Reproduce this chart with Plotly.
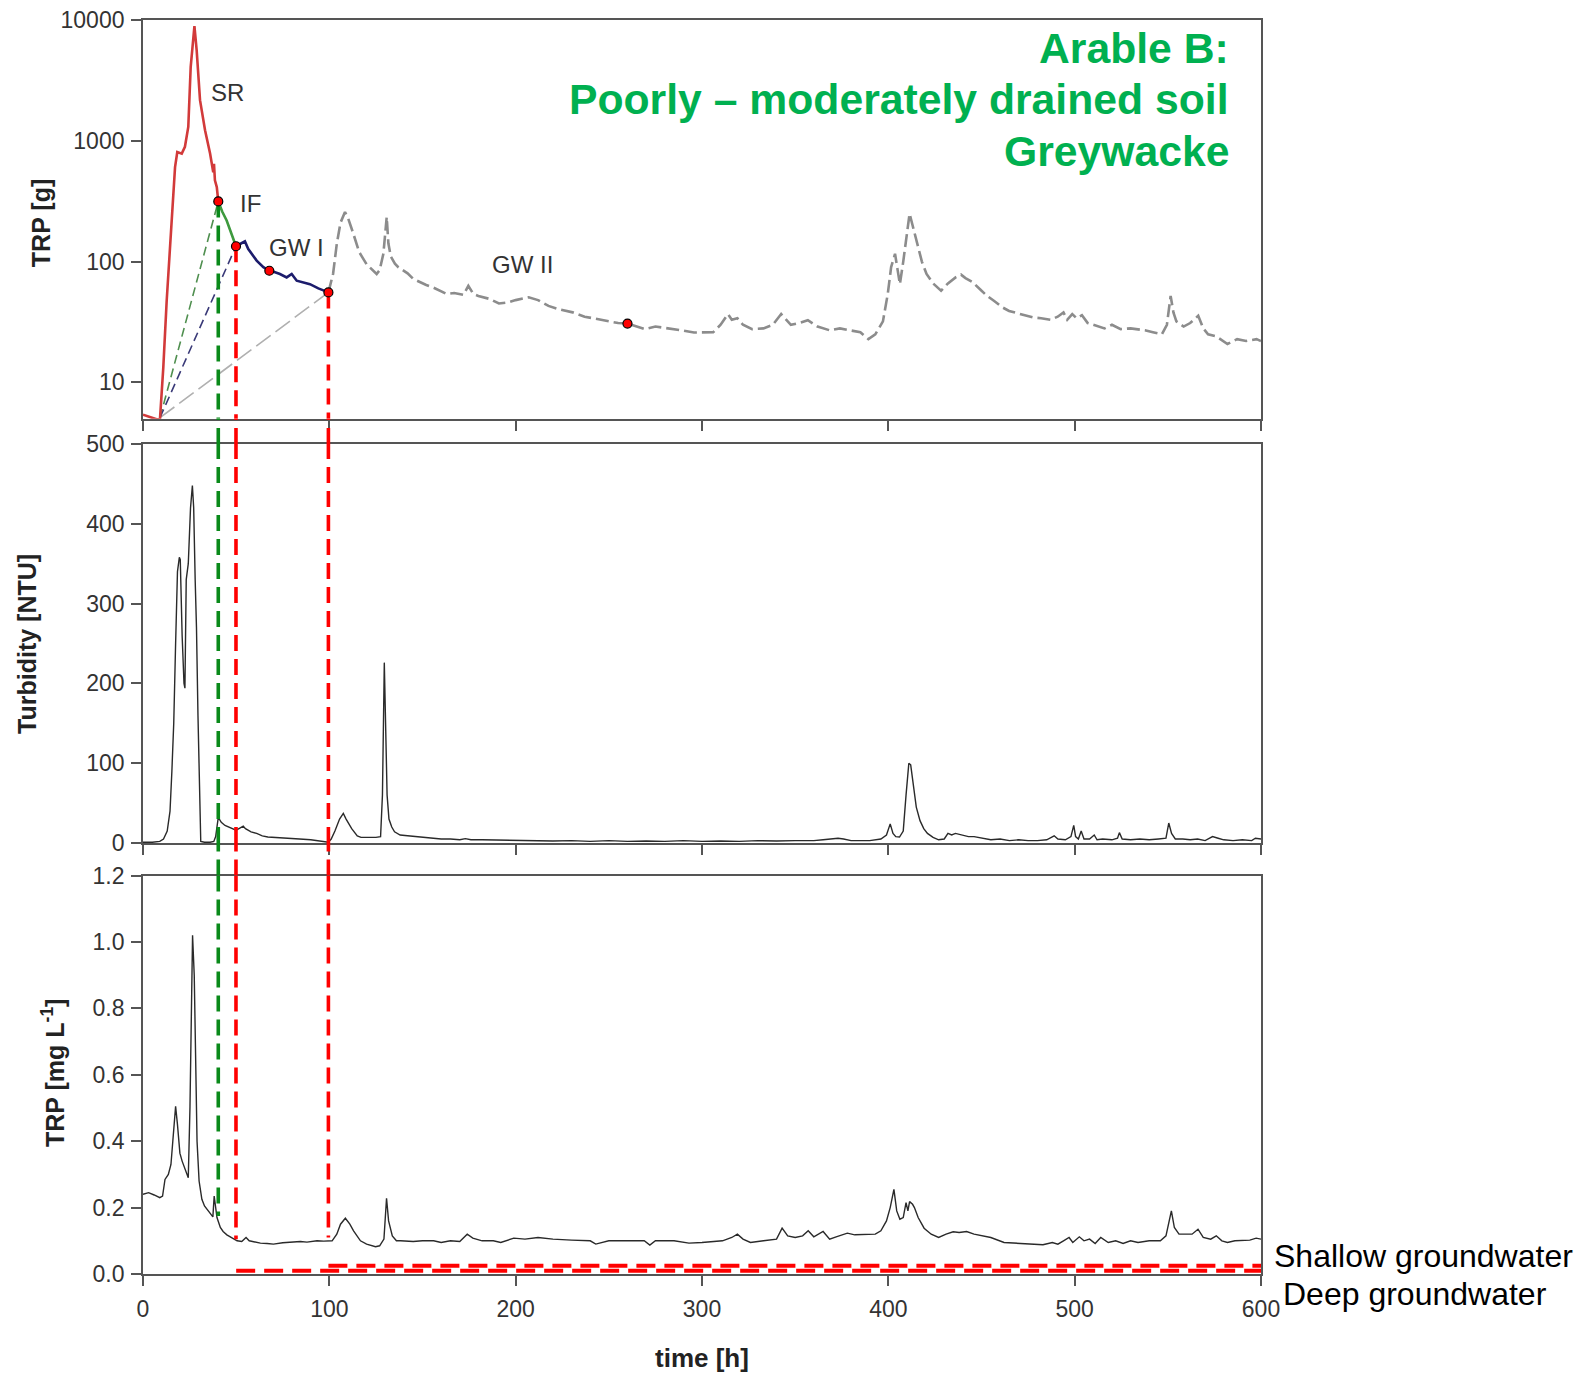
import math
import plotly.graph_objects as go

# ---------------- data ----------------
# Top panel: TRP load [g] (log axis) – hydrograph components
sr_t = [0, 7.3, 9.1, 10.9, 12.7, 15.4, 17.2, 18.4, 20.8, 22.5, 24.3, 25.6, 27.6, 28.8, 30.6, 33.3, 36.0, 37.7, 38.1, 38.6, 39.6, 40.4]
sr_v = [5.4, 4.95, 4.95, 13.3, 47, 234, 605, 807, 783, 892, 1302, 4100, 8920, 5630, 2170, 1222, 784, 550, 645, 470, 414, 315]

if_t = [40.4, 42.5, 44.9, 48.5, 49.9]
if_v = [315, 260, 219, 156, 134]

gw1_t = [49.9, 52.6, 54.7, 56.5, 61.0, 64.6, 67.8, 70.5, 73.5, 77.1, 79.8, 82.5, 86.0, 89.6, 94.1, 99.5]
gw1_v = [134, 140, 147, 127, 102, 90, 84, 82, 79, 74, 79, 69.5, 67, 65, 60, 55.6]

gw2_t = [99.5, 102, 104, 106, 108.4, 110, 112.9, 116, 120, 123, 125.4, 127, 129, 130.8, 131.7, 133, 135.2, 137,
         139.7, 142, 145, 148.7, 152, 155.8, 159, 163, 167, 171.9, 174.6, 177.3, 180, 186.2, 191, 196, 200, 207,
         212, 217.6, 224, 230.6, 237, 243.6, 250, 255, 260, 265, 269.6, 275, 282.7, 289, 295.7, 301, 306, 310,
         313.9, 316, 319, 322, 326.9, 333, 338, 342.5, 345, 347.7, 352, 356.8, 362, 368.5, 374, 380, 385, 389.3,
         393, 397.1, 399.7, 401.5, 403.6, 405, 406.2, 408, 410, 411.4, 413, 415.3, 418, 420.5, 424, 428.3, 432,
         436.1, 439, 441.4, 445, 449.2, 453, 457, 461, 464.8, 470, 477.8, 482, 487, 490.9, 494, 496, 498.7, 501,
         503.9, 507, 511.7, 516, 520, 524.7, 530, 537.7, 542, 546.8, 549.5, 551.5, 553, 554.6, 558.5, 562, 566.3,
         569, 571.6, 576, 582, 587.2, 592, 597.6, 600]
gw2_v = [55.6, 79, 140, 210, 257, 230, 170, 120, 95, 85, 79, 85, 116, 234, 141, 110, 96, 90,
         84, 80, 72, 67.5, 64, 61, 58, 54, 55, 53, 63, 54, 52, 49, 45, 46, 48, 50.6,
         48, 43, 40, 38, 35, 33.4, 32, 31, 30.7, 29, 27.6, 29, 28, 27, 25.9, 26, 26, 30,
         36.8, 33, 34, 30, 27.6, 28, 30, 36.8, 33, 30, 31, 32.7, 29, 27, 28, 27, 26, 22.8,
         25, 32, 54, 90, 116, 85, 65, 100, 180, 249, 200, 149, 100, 79, 66, 57.5, 66,
         74, 78, 73, 68, 59, 52, 47, 42, 39, 37, 34.5, 34, 33, 35, 38, 33, 36.8, 34,
         36, 31, 29.4, 28, 30, 27.6, 28, 27, 26, 25, 30, 52, 38, 32, 29, 31, 35.6,
         28, 25, 24, 20.8, 22.8, 22, 22.8, 22]

# separation points (red dots) and the common start of the tie lines
dot_t = [40.4, 49.9, 67.8, 99.5, 260]
dot_v = [315, 134, 84, 55.6, 30.7]
tie_start_t = 9.1
tie_start_v = 5.1

# Middle panel: turbidity [NTU]
turb_t = [0, 5, 9, 11, 13, 14.5, 15.5, 16.5, 17.5, 18.5, 19.5, 20, 21, 22, 22.5, 23.2, 24.3, 25.5, 26.5, 27.2,
          28, 28.7, 29.5, 30.3, 31, 33, 36, 38, 39, 40.4, 42, 44, 46, 48, 49.9, 51.5, 53.8, 55, 58, 61, 64, 67,
          72, 78, 84, 90, 95, 99.5, 101, 103, 105.5, 107.5, 109, 112, 115, 117, 121, 125, 127.5, 128.5, 129.5,
          130.3, 131, 132, 133.5, 135, 138, 142, 146, 150, 155, 160, 165, 170, 173, 176, 182, 190, 200, 210,
          220, 230, 240, 250, 260, 270, 280, 290, 300, 310, 320, 330, 340, 350, 360, 365, 370, 373, 376, 380,
          390, 396, 399, 401, 402.5, 404, 406, 408, 409.5, 411, 412, 413, 415, 417, 419, 421, 424, 427, 430,
          432, 434, 436, 438, 440, 443, 446, 450, 455, 460, 465, 470, 475, 480, 485, 489, 491, 495, 498, 499.5,
          500.5, 502, 503.5, 505, 508, 510.5, 512, 515, 520, 523, 524, 525.5, 530, 535, 540, 545, 549, 550.5,
          552, 554, 558, 562, 566, 570, 574, 577, 580, 585, 590, 595, 597, 600]
turb_v = [1, 1, 2, 5, 15, 40, 90, 150, 250, 340, 358, 355, 260, 200, 194, 330, 350, 420, 448, 420,
          330, 270, 160, 60, 2, 1, 1, 2, 8, 32, 26, 22, 20, 17, 16, 18, 21, 18, 14, 12, 9, 7.5,
          7, 6, 5, 4, 2.5, 1, 5, 15, 30, 37, 30, 18, 9, 7, 7, 7, 8, 60, 226,
          150, 60, 30, 20, 14, 10, 9, 8, 7.5, 6, 5, 5, 4, 5.5, 4, 4, 3.5, 3, 3,
          2.5, 3, 2, 3, 2, 2.5, 2, 3, 2, 2.5, 2, 3, 2.5, 3, 3, 4, 5, 6, 5, 3,
          3, 5, 10, 24, 12, 8, 7.5, 15, 60, 100, 98, 80, 45, 28, 18, 12, 7, 4, 5,
          12, 10, 12, 11, 10, 8, 8, 6, 4, 5, 3, 4, 3, 3, 4, 9, 5, 4, 8, 22,
          8, 5, 15, 5, 5, 10, 4, 5, 4, 6, 13, 5, 4, 5, 4, 5, 6, 25,
          12, 5, 5, 4, 5, 3, 8, 6, 4, 3, 4, 3, 6, 5]

# Bottom panel: TRP concentration [mg/L]
conc_t = [0, 3, 6, 9, 10.5, 11.8, 13.6, 15, 16, 17.5, 18.5, 19.8, 21, 23, 24.3, 25.2, 25.8, 26.6, 27.5, 28.3,
          29, 30.1, 31.6, 33, 34.3, 36, 37.5, 38.2, 39, 39.7, 41.5, 43, 45, 46.9, 49, 50.5, 53, 55.3, 57, 59.4,
          63, 66.6, 70, 75, 79, 84.5, 88, 93.4, 97, 101.5, 104, 106, 108.6, 111, 113, 116.7, 120, 124.8, 127,
          129.3, 130.7, 131.8, 133.8, 136, 138.2, 145, 150, 156, 160, 165, 170, 174, 177, 182, 188, 192, 199,
          205, 212, 220, 230, 240, 243, 250, 260, 269, 272, 275, 285, 293, 300, 311, 316, 319, 322, 326, 333,
          340, 343, 346, 350, 354, 357, 360, 365, 368.5, 372, 378, 382, 389, 393, 396, 399, 401, 403, 404.5,
          406.2, 408, 409.5, 410.5, 411.4, 413, 414, 416, 419.2, 423, 427, 431, 434.8, 438, 442, 446, 450.4,
          455, 462.1, 470, 478, 483, 488, 491, 494, 497, 499, 502.5, 505, 508, 511, 514, 518, 522, 526, 530,
          534, 540, 546, 549, 551.9, 553.5, 556, 560, 563, 566.2, 569, 573, 576, 579, 582, 586, 590, 594,
          597.4, 600]
conc_v = [0.24, 0.245, 0.238, 0.23, 0.235, 0.285, 0.30, 0.33, 0.40, 0.505, 0.45, 0.364, 0.34, 0.31, 0.29, 0.50, 0.8, 1.02, 0.9, 0.6,
          0.4, 0.28, 0.225, 0.205, 0.195, 0.185, 0.172, 0.235, 0.2, 0.17, 0.14, 0.128, 0.118, 0.112, 0.105, 0.10, 0.098, 0.11, 0.1, 0.097,
          0.093, 0.092, 0.09, 0.094, 0.095, 0.098, 0.096, 0.1, 0.099, 0.1, 0.12, 0.15, 0.168, 0.15, 0.13, 0.10, 0.09, 0.082, 0.085,
          0.105, 0.228, 0.16, 0.115, 0.1, 0.10, 0.098, 0.1, 0.1, 0.095, 0.1, 0.098, 0.12, 0.108, 0.1, 0.1, 0.095, 0.108,
          0.105, 0.11, 0.105, 0.102, 0.1, 0.09, 0.1, 0.1, 0.1, 0.087, 0.1, 0.1, 0.093, 0.095, 0.1, 0.11, 0.12, 0.105, 0.095, 0.1,
          0.105, 0.138, 0.115, 0.11, 0.115, 0.13, 0.112, 0.128, 0.105, 0.112, 0.123, 0.118, 0.12, 0.12, 0.13, 0.16, 0.2, 0.255, 0.19,
          0.165, 0.17, 0.215, 0.19, 0.218, 0.21, 0.2, 0.17, 0.138, 0.12, 0.11, 0.12, 0.127, 0.125, 0.128, 0.12, 0.115,
          0.11, 0.095, 0.092, 0.09, 0.088, 0.095, 0.09, 0.1, 0.11, 0.095, 0.112, 0.1, 0.105, 0.092, 0.11, 0.095, 0.1, 0.092, 0.1,
          0.095, 0.1, 0.1, 0.115, 0.19, 0.14, 0.12, 0.12, 0.12, 0.135, 0.11, 0.105, 0.115, 0.1, 0.095, 0.1, 0.1, 0.102,
          0.108, 0.105]

# vertical separation guides: time, start value (top panel), end value (bottom panel)
guide_t = [40.4, 49.9, 99.5]
guide_top_v = [315, 134, 55.6]
guide_bot_v = [0.175, 0.105, 0.11]
guide_col = ["#0a8a1a", "#ff0000", "#ff0000"]

# groundwater level lines in bottom panel
shallow_t = [99.5, 600]
shallow_v = [0.025, 0.025]
deep_t = [50, 600]
deep_v = [0.01, 0.01]

# labels in top panel
lab_text = ["SR", "IF", "GW I", "GW II"]
lab_t = [45.5, 57.5, 82.6, 203.4]
lab_v = [2500, 300, 131, 95]

x_ticks = [0, 100, 200, 300, 400, 500, 600]
top_ticks = [10, 100, 1000, 10000]
mid_ticks = [0, 100, 200, 300, 400, 500]
bot_ticks = [0.0, 0.2, 0.4, 0.6, 0.8, 1.0, 1.2]

# ---------------- layout geometry ----------------
W, H = 1589, 1376
dom_top = [0.682, 1.0]
dom_mid = [0.3437, 0.6619]
dom_bot = [0.0, 0.3177]
YMIN_TOP = 5

FONT = "Liberation Sans, Arial, sans-serif"
AX = "#555555"

fig = go.Figure()

def add(x, y, ax, **kw):
    xa, ya = {1: ("x", "y"), 2: ("x2", "y2"), 3: ("x3", "y3")}[ax]
    fig.add_trace(go.Scatter(x=x, y=y, xaxis=xa, yaxis=ya, mode="lines", showlegend=False,
                             hoverinfo="skip", **kw))

# --- top panel ---
add([tie_start_t, dot_t[3]], [tie_start_v, dot_v[3]], 1, line=dict(color="#b0b0b0", width=1.6, dash="18px,6px"))
add([tie_start_t, dot_t[0]], [tie_start_v, dot_v[0]], 1, line=dict(color="#4f8f4f", width=1.6, dash="9px,5px"))
add([tie_start_t, dot_t[1]], [tie_start_v, dot_v[1]], 1, line=dict(color="#3a3a78", width=1.6, dash="9px,5px"))

add(gw2_t, gw2_v, 1, line=dict(color="#8c8c8c", width=2.6, dash="13px,5px"))
add(sr_t, sr_v, 1, line=dict(color="#d23a3a", width=2.6))
add(if_t, if_v, 1, line=dict(color="#3e9a3e", width=2.6))
add(gw1_t, gw1_v, 1, line=dict(color="#1c1c6c", width=2.6))

# --- middle panel ---
add(turb_t, turb_v, 2, line=dict(color="#2a2a2a", width=1.4))

# --- bottom panel ---
add(conc_t, conc_v, 3, line=dict(color="#2a2a2a", width=1.4))
add(deep_t, deep_v, 3, line=dict(color="#ff0000", width=4, dash="19px,9px"))
add(shallow_t, shallow_v, 3, line=dict(color="#ff0000", width=4, dash="19px,9px"))

# --- vertical guides (segments inside each panel + shapes across the gaps) ---
GDASH = "16px,8px"
for t, vt, vb, c in zip(guide_t, guide_top_v, guide_bot_v, guide_col):
    ln = dict(color=c, width=3.6, dash=GDASH)
    add([t, t], [vt, YMIN_TOP], 1, line=ln)
    add([t, t], [0, mid_ticks[-1]], 2, line=ln)
    add([t, t], [bot_ticks[-1], vb], 3, line=ln)
    for y0, y1 in [(dom_mid[1], dom_top[0]), (dom_bot[1], dom_mid[0])]:
        fig.add_shape(type="line", xref="x", yref="paper", x0=t, x1=t, y0=y0, y1=y1,
                      line=dict(color=c, width=3.6, dash=GDASH), layer="above")

# separation points
fig.add_trace(go.Scatter(x=dot_t, y=dot_v, xaxis="x", yaxis="y", mode="markers", showlegend=False,
                         hoverinfo="skip",
                         marker=dict(color="#ff0000", size=9, line=dict(color="#000000", width=1.2))))

# ---------------- axes ----------------
common_x = dict(range=[0, 600], tickvals=x_ticks, showline=True, linecolor=AX, linewidth=1.8, mirror=True,
                ticks="outside", ticklen=10, tickwidth=1.5, tickcolor=AX, showgrid=False, zeroline=False,
                automargin=False, tickfont=dict(family=FONT, size=23, color="#333333"))
common_y = dict(showline=True, linecolor=AX, linewidth=1.8, mirror=True, ticks="outside", ticklen=10,
                tickwidth=1.5, tickcolor=AX, showgrid=False, zeroline=False, ticklabelstandoff=2,
                automargin=False, tickfont=dict(family=FONT, size=23, color="#333333"))

fig.update_layout(
    width=W, height=H,
    margin=dict(l=143, r=328, t=20, b=102, autoexpand=False),
    paper_bgcolor="white", plot_bgcolor="white",
    xaxis=dict(anchor="y", domain=[0, 1], showticklabels=False, **common_x),
    xaxis2=dict(anchor="y2", domain=[0, 1], showticklabels=False, **common_x),
    xaxis3=dict(anchor="y3", domain=[0, 1], showticklabels=True, ticklabelstandoff=3, **common_x),
    yaxis=dict(anchor="x", domain=dom_top, type="log", range=[math.log10(YMIN_TOP), 4],
               tickvals=top_ticks, ticktext=[str(v) for v in top_ticks], **common_y),
    yaxis2=dict(anchor="x2", domain=dom_mid, range=[0, 500], tickvals=mid_ticks, **common_y),
    yaxis3=dict(anchor="x3", domain=dom_bot, range=[0, 1.2], tickvals=bot_ticks, tickformat=".1f", **common_y),
)

# ---------------- text ----------------
ann = []
for txt, t, v in zip(lab_text, lab_t, lab_v):
    ann.append(dict(text=txt, x=t, y=math.log10(v), xref="x", yref="y", showarrow=False,
                    xanchor="center", yanchor="middle", font=dict(family=FONT, size=24, color="#333333")))

title_lines = ["Arable B:", "Poorly \u2013 moderately drained soil", "Greywacke"]
title_y = [0.9777, 0.937, 0.8955]
for txt, y in zip(title_lines, title_y):
    ann.append(dict(text="<b>" + txt + "</b>", x=0.9732, y=y, xref="paper", yref="paper", showarrow=False,
                    xanchor="right", yanchor="middle", font=dict(family=FONT, size=42.7, color="#00b050")))

ann.append(dict(text="Shallow groundwater", x=1.0098, y=0.0144, xref="paper", yref="paper", showarrow=False,
                xanchor="left", yanchor="middle", font=dict(family=FONT, size=32, color="#000000")))
ann.append(dict(text="Deep groundwater", x=1.0179, y=-0.016, xref="paper", yref="paper", showarrow=False,
                xanchor="left", yanchor="middle", font=dict(family=FONT, size=32, color="#000000")))

# axis titles
tfont = dict(family=FONT, size=25, color="#222222")
ann.append(dict(text="<b>TRP [g]</b>", x=-0.0912, y=0.838, xref="paper", yref="paper", showarrow=False,
                textangle=-90, xanchor="center", yanchor="middle", font=tfont))
ann.append(dict(text="<b>Turbidity [NTU]</b>", x=-0.1038, y=0.5024, xref="paper", yref="paper", showarrow=False,
                textangle=-90, xanchor="center", yanchor="middle", font=tfont))
ann.append(dict(text="<b>TRP [mg L<sup>-1</sup>]</b>", x=-0.0805, y=0.1603, xref="paper", yref="paper",
                showarrow=False, textangle=-90, xanchor="center", yanchor="middle", font=tfont))
ann.append(dict(text="<b>time [h]</b>", x=0.5, y=-0.067, xref="paper", yref="paper", showarrow=False,
                xanchor="center", yanchor="middle", font=dict(family=FONT, size=26, color="#222222")))

fig.update_layout(annotations=ann)

fig.write_html("out.html")
